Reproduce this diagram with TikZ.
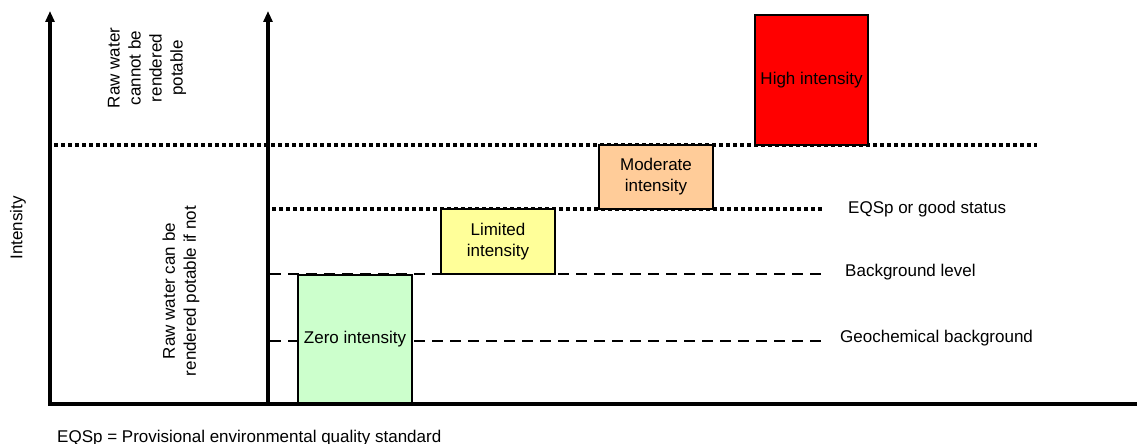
\documentclass[tikz,border=0pt]{standalone}
\usepackage{fontspec}
\setmainfont{Liberation Sans}
\usetikzlibrary{arrows.meta}
\begin{document}
\begin{tikzpicture}[x=1pt,y=-1pt,font=\fontsize{17}{21}\selectfont,
  axisline/.style={line width=3.5pt,-{Triangle[width=9pt,length=11pt]}},
  baseline/.style={line width=3.5pt},
  dotline/.style={line width=3.5pt,dash pattern=on 3.5pt off 3.5pt},
  dashline/.style={line width=2.6pt,dash pattern=on 11pt off 7pt},
  lvlbox/.style={draw,line width=1.4pt,inner sep=0pt,align=center},
  lbl/.style={anchor=west,inner sep=0pt}]
\useasboundingbox (0,0) rectangle (1137,444);
% coordinates
\coordinate (o1) at (50,405);
\coordinate (t1) at (50,11);
\coordinate (o2) at (268,405);
\coordinate (t2) at (268,11);
\coordinate (xl) at (48,404);
\coordinate (xr) at (1137,404);
\coordinate (d1a) at (54,145);
\coordinate (d1b) at (1037,145);
\coordinate (d2a) at (272,209);
\coordinate (d2b) at (823,209);
\coordinate (b1a) at (270,274);
\coordinate (b1b) at (823,274);
\coordinate (b2a) at (270,341);
\coordinate (b2b) at (823,341);
% level lines
\draw[dotline] (d1a) -- (d1b);
\draw[dotline] (d2a) -- (d2b);
\draw[dashline] (b1a) -- (b1b);
\draw[dashline] (b2a) -- (b2b);
% boxes
\node[lvlbox,fill={rgb,255:red,204;green,255;blue,204},minimum width=114pt,minimum height=129pt] (zero) at (355,339.5) {Zero intensity};
\node[lvlbox,fill={rgb,255:red,255;green,255;blue,153},minimum width=114pt,minimum height=65pt] (limited) at (498,241.5) {Limited\\intensity};
\node[lvlbox,fill={rgb,255:red,255;green,204;blue,153},minimum width=114pt,minimum height=64pt] (moderate) at (656,177) {Moderate\\intensity};
\node[lvlbox,fill={rgb,255:red,255;green,0;blue,0},minimum width=113pt,minimum height=130pt] (high) at (811.5,80) {High intensity};
% axes
\draw[baseline] (xl) -- (xr);
\draw[axisline] (o1) -- (t1);
\draw[axisline] (o2) -- (t2);
% labels
\node[lbl] (eqs) at (848,209) {EQSp or good status};
\node[lbl] (bgl) at (845,272) {Background level};
\node[lbl] (geo) at (840,338) {Geochemical background};
\node[rotate=90,inner sep=0pt] (int) at (18,228) {Intensity};
\node[rotate=90,align=center,inner sep=0pt] (cannot) at (147,68) {Raw water\\cannot be\\rendered\\potable};
\node[rotate=90,align=center,inner sep=0pt] (can) at (181,291) {Raw water can be\\rendered potable if not};
\node[lbl] (note) at (57,438) {EQSp = Provisional environmental quality standard};
\end{tikzpicture}
\end{document}
